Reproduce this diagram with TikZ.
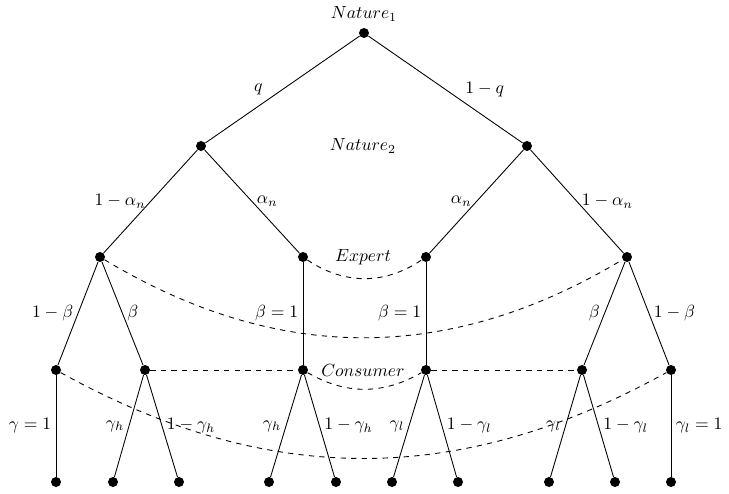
\documentclass[tikz,border=0pt]{standalone}
\usepackage{amsmath, amssymb}
\usepackage{tikz}
\usetikzlibrary{positioning}

\begin{document}
\begin{tikzpicture}[x=1cm, y=1cm,
  dot/.style={circle, fill=black, minimum size=2mm, inner sep=0pt},
  player/.style={inner sep=1pt},
  branch/.style={draw, line width=0.5pt},
  infoset/.style={draw, dashed, line width=0.5pt},
  elab/.style={inner sep=2.5pt}
]
  \useasboundingbox (0,0) rectangle (14.58,-9.88);
  % ===== decision nodes =====
  \node[dot, label={above:$Nature_1$}] (R) at (7.28,-0.66) {};
  \node[dot] (A1) at (4.02,-2.92)  {};
  \node[dot] (A2) at (10.54,-2.92) {};
  \node[dot] (B1) at (2.00,-5.14)  {};
  \node[dot] (B2) at (6.06,-5.14)  {};
  \node[dot] (B3) at (8.52,-5.14)  {};
  \node[dot] (B4) at (12.54,-5.14) {};
  \node[dot] (C1) at (1.12,-7.40)  {};
  \node[dot] (C2) at (2.90,-7.40)  {};
  \node[dot] (C3) at (6.06,-7.40)  {};
  \node[dot] (C4) at (8.52,-7.40)  {};
  \node[dot] (C5) at (11.64,-7.40) {};
  \node[dot] (C6) at (13.42,-7.40) {};
  % ===== terminal nodes =====
  \node[dot] (D1)  at (1.12,-9.64)  {};
  \node[dot] (D2)  at (2.26,-9.64)  {};
  \node[dot] (D3)  at (3.58,-9.64)  {};
  \node[dot] (D4)  at (5.38,-9.64)  {};
  \node[dot] (D5)  at (6.72,-9.64)  {};
  \node[dot] (D6)  at (7.84,-9.64)  {};
  \node[dot] (D7)  at (9.16,-9.64)  {};
  \node[dot] (D8)  at (10.98,-9.64) {};
  \node[dot] (D9)  at (12.30,-9.64) {};
  \node[dot] (D10) at (13.42,-9.64) {};
  % ===== players =====
  \node[player] (nat2) at (7.26,-2.92) {$Nature_2$};
  \node[player] (exp)  at (7.26,-5.14) {$Expert$};
  \node[player] (cons) at (7.26,-7.40) {$Consumer$};
  % ===== branches =====
  \draw[branch] (R) -- node[elab, midway, left=0.3cm]  {$q$}   (A1);
  \draw[branch] (R) -- node[elab, midway, right=0.3cm] {$1-q$} (A2);
  \draw[branch] (A1) -- node[elab, midway, left]  {$1-\alpha_n$} (B1);
  \draw[branch] (A1) -- node[elab, midway, right] {$\alpha_n$}   (B2);
  \draw[branch] (A2) -- node[elab, midway, left]  {$\alpha_n$}   (B3);
  \draw[branch] (A2) -- node[elab, midway, right] {$1-\alpha_n$} (B4);
  \draw[branch] (B1) -- node[elab, midway, left]  {$1-\beta$} (C1);
  \draw[branch] (B1) -- node[elab, midway, right] {$\beta$}   (C2);
  \draw[branch] (B2) -- node[elab, midway, left]  {$\beta=1$} (C3);
  \draw[branch] (B3) -- node[elab, midway, left]  {$\beta=1$} (C4);
  \draw[branch] (B4) -- node[elab, midway, left]  {$\beta$}   (C5);
  \draw[branch] (B4) -- node[elab, midway, right] {$1-\beta$} (C6);
  \draw[branch] (C1) -- node[elab, midway, left]  {$\gamma=1$}    (D1);
  \draw[branch] (C2) -- node[elab, midway, left]  {$\gamma_h$}    (D2);
  \draw[branch] (C2) -- node[elab, midway, right] {$1-\gamma_h$}  (D3);
  \draw[branch] (C3) -- node[elab, midway, left]  {$\gamma_h$}    (D4);
  \draw[branch] (C3) -- node[elab, midway, right] {$1-\gamma_h$}  (D5);
  \draw[branch] (C4) -- node[elab, midway, left]  {$\gamma_l$}    (D6);
  \draw[branch] (C4) -- node[elab, midway, right] {$1-\gamma_l$}  (D7);
  \draw[branch] (C5) -- node[elab, midway, left]  {$\gamma_l$}    (D8);
  \draw[branch] (C5) -- node[elab, midway, right] {$1-\gamma_l$}  (D9);
  \draw[branch] (C6) -- node[elab, midway, right] {$\gamma_l=1$}  (D10);
  % ===== information sets =====
  \draw[infoset] (B1) to[bend right=31] (B4);
  \draw[infoset] (B2) to[bend right=34] (B3);
  \draw[infoset] (C1) to[bend right=29] (C6);
  \draw[infoset] (C3) to[bend right=30] (C4);
  \draw[infoset] (C2) -- (C3);
  \draw[infoset] (C4) -- (C5);
\end{tikzpicture}
\end{document}
